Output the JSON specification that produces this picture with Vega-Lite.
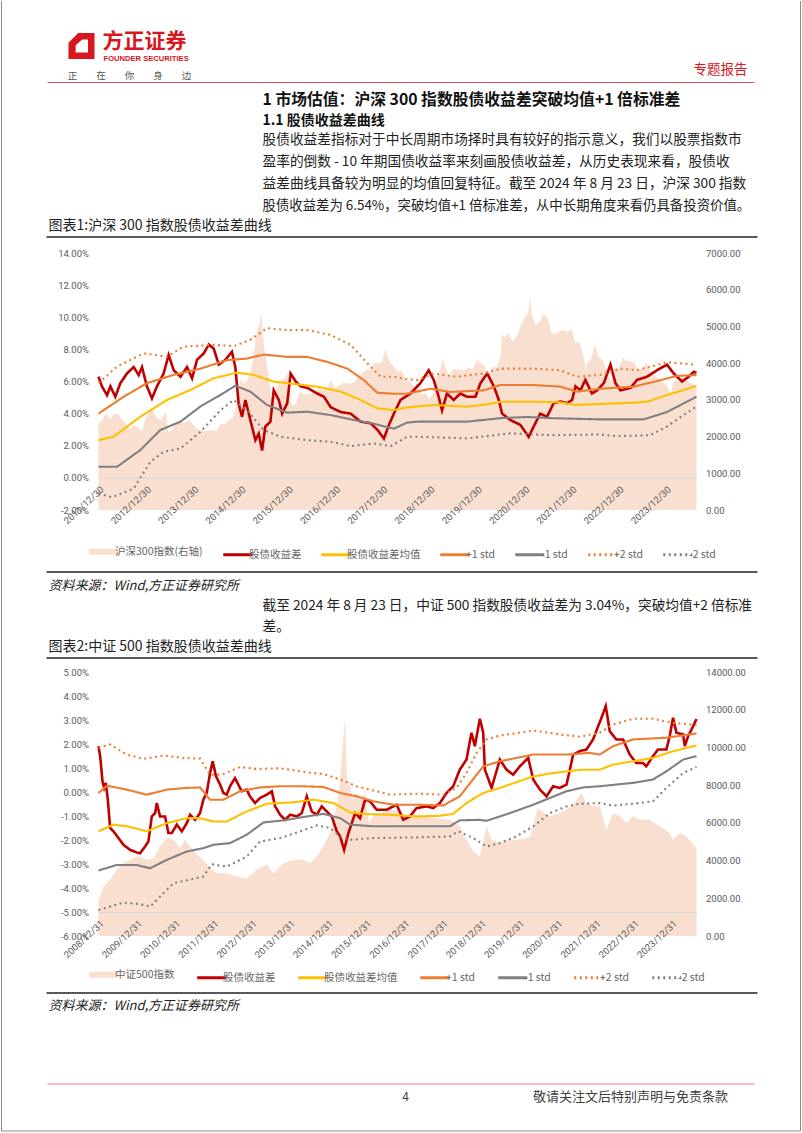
{
  "$schema": "https://vega.github.io/schema/vega-lite/v6.json",
  "background": "white",
  "padding": {"left": 0.5, "top": 0, "right": 0, "bottom": 0},
  "autosize": {"type": "pad"},
  "bounds": "flush",
  "spacing": 162,
  "resolve": {"scale": {"color": "independent", "strokeDash": "independent"}, "legend": {"color": "independent", "strokeDash": "independent"}},
  "config": {
    "view": {"stroke": null, "fill": null},
    "font": "Noto Sans CJK SC",
    "axis": {"labelFont": "Roboto", "labelColor": "#595959"}
  },
  "datasets": {
    "c1a": [
      {"d":"2011-12-30","v":2346},{"d":"2012-01-31","v":2464},{"d":"2012-02-29","v":2634},{"d":"2012-03-30","v":2455},{"d":"2012-04-27","v":2627},{"d":"2012-05-31","v":2620},{"d":"2012-06-29","v":2461},{"d":"2012-07-31","v":2333},{"d":"2012-08-31","v":2204},{"d":"2012-09-28","v":2293},{"d":"2012-10-31","v":2254},{"d":"2012-11-30","v":2139},{"d":"2012-12-31","v":2523},
      {"d":"2013-01-31","v":2688},{"d":"2013-02-08","v":2790},{"d":"2013-02-28","v":2673},{"d":"2013-03-29","v":2495},{"d":"2013-04-26","v":2448},{"d":"2013-05-31","v":2674},{"d":"2013-06-25","v":2100},{"d":"2013-07-31","v":2269},{"d":"2013-08-30","v":2389},{"d":"2013-09-30","v":2409},{"d":"2013-10-31","v":2374},{"d":"2013-11-29","v":2449},{"d":"2013-12-31","v":2331},
      {"d":"2014-01-30","v":2203},{"d":"2014-02-28","v":2178},{"d":"2014-03-31","v":2146},{"d":"2014-04-30","v":2158},{"d":"2014-05-30","v":2160},{"d":"2014-06-30","v":2165},{"d":"2014-07-31","v":2350},{"d":"2014-08-29","v":2338},{"d":"2014-09-30","v":2450},{"d":"2014-10-31","v":2508},{"d":"2014-11-28","v":2808},{"d":"2014-12-31","v":3533},
      {"d":"2015-01-30","v":3435},{"d":"2015-02-27","v":3572},{"d":"2015-03-31","v":3946},{"d":"2015-04-30","v":4750},{"d":"2015-05-29","v":5123},{"d":"2015-06-08","v":5380},{"d":"2015-06-30","v":4473},{"d":"2015-07-31","v":3816},{"d":"2015-08-26","v":3025},{"d":"2015-08-31","v":3366},{"d":"2015-09-30","v":3202},{"d":"2015-10-30","v":3534},{"d":"2015-11-30","v":3566},{"d":"2015-12-31","v":3731},
      {"d":"2016-01-28","v":2853},{"d":"2016-02-29","v":2877},{"d":"2016-03-31","v":3218},{"d":"2016-04-29","v":3156},{"d":"2016-05-31","v":3169},{"d":"2016-06-30","v":3154},{"d":"2016-07-29","v":3203},{"d":"2016-08-31","v":3327},{"d":"2016-09-30","v":3253},{"d":"2016-10-31","v":3336},{"d":"2016-11-30","v":3538},{"d":"2016-12-30","v":3310},
      {"d":"2017-01-26","v":3387},{"d":"2017-02-28","v":3452},{"d":"2017-03-31","v":3456},{"d":"2017-04-28","v":3439},{"d":"2017-05-31","v":3492},{"d":"2017-06-30","v":3666},{"d":"2017-07-31","v":3737},{"d":"2017-08-31","v":3822},{"d":"2017-09-29","v":3837},{"d":"2017-10-31","v":4006},{"d":"2017-11-30","v":4006},{"d":"2017-12-29","v":4031},
      {"d":"2018-01-24","v":4389},{"d":"2018-01-31","v":4275},{"d":"2018-02-28","v":4023},{"d":"2018-03-30","v":3899},{"d":"2018-04-27","v":3756},{"d":"2018-05-31","v":3802},{"d":"2018-06-29","v":3510},{"d":"2018-07-31","v":3517},{"d":"2018-08-31","v":3335},{"d":"2018-09-28","v":3438},{"d":"2018-10-31","v":3153},{"d":"2018-11-30","v":3173},{"d":"2018-12-28","v":3011},
      {"d":"2019-01-31","v":3202},{"d":"2019-02-28","v":3670},{"d":"2019-03-29","v":3872},{"d":"2019-04-08","v":4120},{"d":"2019-04-30","v":3913},{"d":"2019-05-31","v":3630},{"d":"2019-06-28","v":3826},{"d":"2019-07-31","v":3836},{"d":"2019-08-30","v":3799},{"d":"2019-09-30","v":3815},{"d":"2019-10-31","v":3886},{"d":"2019-11-29","v":3828},{"d":"2019-12-31","v":4097},
      {"d":"2020-01-23","v":4003},{"d":"2020-02-28","v":3940},{"d":"2020-03-23","v":3530},{"d":"2020-03-31","v":3686},{"d":"2020-04-30","v":3912},{"d":"2020-05-29","v":3868},{"d":"2020-06-30","v":4164},{"d":"2020-07-13","v":4800},{"d":"2020-07-31","v":4696},{"d":"2020-08-31","v":4816},{"d":"2020-09-30","v":4588},{"d":"2020-10-30","v":4696},{"d":"2020-11-30","v":4980},{"d":"2020-12-31","v":5211},
      {"d":"2021-01-29","v":5352},{"d":"2021-02-18","v":5807},{"d":"2021-02-26","v":5336},{"d":"2021-03-31","v":5048},{"d":"2021-04-30","v":5124},{"d":"2021-05-31","v":5332},{"d":"2021-06-30","v":5224},{"d":"2021-07-30","v":4811},{"d":"2021-08-31","v":4806},{"d":"2021-09-30","v":4866},{"d":"2021-10-29","v":4909},{"d":"2021-11-30","v":4833},{"d":"2021-12-31","v":4940},
      {"d":"2022-01-28","v":4564},{"d":"2022-02-28","v":4581},{"d":"2022-03-31","v":4222},{"d":"2022-04-26","v":3757},{"d":"2022-04-29","v":4016},{"d":"2022-05-31","v":4091},{"d":"2022-06-30","v":4485},{"d":"2022-07-29","v":4170},{"d":"2022-08-31","v":4079},{"d":"2022-09-30","v":3804},{"d":"2022-10-31","v":3509},{"d":"2022-11-30","v":3854},{"d":"2022-12-30","v":3872},
      {"d":"2023-01-31","v":4157},{"d":"2023-02-28","v":4061},{"d":"2023-03-31","v":4051},{"d":"2023-04-28","v":4030},{"d":"2023-05-31","v":3799},{"d":"2023-06-30","v":3842},{"d":"2023-07-31","v":4013},{"d":"2023-08-31","v":3765},{"d":"2023-09-28","v":3690},{"d":"2023-10-31","v":3573},{"d":"2023-11-30","v":3496},{"d":"2023-12-29","v":3431},
      {"d":"2024-01-31","v":3215},{"d":"2024-02-05","v":3180},{"d":"2024-02-29","v":3516},{"d":"2024-03-29","v":3537},{"d":"2024-04-30","v":3604},{"d":"2024-05-31","v":3579},{"d":"2024-06-28","v":3462},{"d":"2024-07-31","v":3442},{"d":"2024-08-23","v":3320}
    ],
    "c1l": [
      {"s":"股债收益差","d":"2011-12-30","v":0.063},{"s":"股债收益差","d":"2012-01-25","v":0.057},{"s":"股债收益差","d":"2012-03-05","v":0.0515},{"s":"股债收益差","d":"2012-03-31","v":0.057},{"s":"股债收益差","d":"2012-05-08","v":0.0505},{"s":"股债收益差","d":"2012-06-16","v":0.059},{"s":"股债收益差","d":"2012-08-06","v":0.065},{"s":"股债收益差","d":"2012-09-27","v":0.069},{"s":"股债收益差","d":"2012-11-04","v":0.064},{"s":"股债收益差","d":"2012-11-30","v":0.069},
      {"s":"股债收益差","d":"2013-01-07","v":0.057},{"s":"股债收益差","d":"2013-02-15","v":0.0495},{"s":"股债收益差","d":"2013-03-26","v":0.057},{"s":"股债收益差","d":"2013-05-16","v":0.065},{"s":"股债收益差","d":"2013-06-24","v":0.0765},{"s":"股债收益差","d":"2013-08-02","v":0.067},{"s":"股债收益差","d":"2013-09-23","v":0.063},{"s":"股债收益差","d":"2013-11-13","v":0.069},{"s":"股债收益差","d":"2013-12-22","v":0.062},
      {"s":"股债收益差","d":"2014-01-29","v":0.0735},{"s":"股债收益差","d":"2014-03-22","v":0.0775},{"s":"股债收益差","d":"2014-04-30","v":0.083},{"s":"股债收益差","d":"2014-06-07","v":0.0805},{"s":"股债收益差","d":"2014-07-16","v":0.0705},{"s":"股债收益差","d":"2014-09-05","v":0.0735},{"s":"股债收益差","d":"2014-10-26","v":0.0785},{"s":"股债收益差","d":"2014-11-21","v":0.069},{"s":"股债收益差","d":"2014-12-17","v":0.046},
      {"s":"股债收益差","d":"2015-01-12","v":0.038},{"s":"股债收益差","d":"2015-02-07","v":0.0485},{"s":"股债收益差","d":"2015-03-17","v":0.036},{"s":"股债收益差","d":"2015-04-25","v":0.0235},{"s":"股债收益差","d":"2015-05-21","v":0.0275},{"s":"股债收益差","d":"2015-06-16","v":0.017},{"s":"股债收益差","d":"2015-07-11","v":0.032},{"s":"股债收益差","d":"2015-08-19","v":0.035},{"s":"股债收益差","d":"2015-09-14","v":0.0545},{"s":"股债收益差","d":"2015-10-23","v":0.0485},{"s":"股债收益差","d":"2015-11-18","v":0.04},{"s":"股债收益差","d":"2015-12-27","v":0.0465},
      {"s":"股债收益差","d":"2016-01-22","v":0.065},{"s":"股债收益差","d":"2016-03-01","v":0.06},{"s":"股债收益差","d":"2016-04-09","v":0.057},{"s":"股债收益差","d":"2016-05-30","v":0.056},{"s":"股债收益差","d":"2016-08-15","v":0.0525},{"s":"股债收益差","d":"2016-10-06","v":0.0505},{"s":"股债收益差","d":"2016-11-27","v":0.044},
      {"s":"股债收益差","d":"2017-02-12","v":0.041},{"s":"股债收益差","d":"2017-04-30","v":0.04},{"s":"股债收益差","d":"2017-07-16","v":0.035},{"s":"股债收益差","d":"2017-10-01","v":0.034},{"s":"股债收益差","d":"2017-11-22","v":0.03},
      {"s":"股债收益差","d":"2018-01-12","v":0.0245},{"s":"股债收益差","d":"2018-02-20","v":0.033},{"s":"股债收益差","d":"2018-03-30","v":0.04},{"s":"股债收益差","d":"2018-05-20","v":0.0485},{"s":"股债收益差","d":"2018-08-05","v":0.0525},{"s":"股债收益差","d":"2018-10-21","v":0.059},{"s":"股债收益差","d":"2018-12-24","v":0.067},
      {"s":"股债收益差","d":"2019-02-01","v":0.061},{"s":"股债收益差","d":"2019-03-11","v":0.0505},{"s":"股债收益差","d":"2019-04-06","v":0.042},{"s":"股债收益差","d":"2019-05-14","v":0.0525},{"s":"股债收益差","d":"2019-07-05","v":0.0485},{"s":"股债收益差","d":"2019-08-25","v":0.0525},{"s":"股债收益差","d":"2019-10-16","v":0.0505},{"s":"股债收益差","d":"2019-12-20","v":0.0505},
      {"s":"股债收益差","d":"2020-01-28","v":0.059},{"s":"股债收益差","d":"2020-03-20","v":0.065},{"s":"股债收益差","d":"2020-05-10","v":0.057},{"s":"股债收益差","d":"2020-06-18","v":0.0485},{"s":"股债收益差","d":"2020-07-13","v":0.04},{"s":"股债收益差","d":"2020-09-15","v":0.036},{"s":"股债收益差","d":"2020-12-01","v":0.033},
      {"s":"股债收益差","d":"2021-02-04","v":0.0255},{"s":"股债收益差","d":"2021-03-14","v":0.032},{"s":"股债收益差","d":"2021-05-04","v":0.04},{"s":"股债收益差","d":"2021-06-25","v":0.038},{"s":"股债收益差","d":"2021-08-15","v":0.0465},{"s":"股债收益差","d":"2021-10-06","v":0.0475},{"s":"股债收益差","d":"2021-11-27","v":0.0465},
      {"s":"股债收益差","d":"2022-01-05","v":0.0485},{"s":"股债收益差","d":"2022-01-31","v":0.057},{"s":"股债收益差","d":"2022-03-10","v":0.0545},{"s":"股债收益差","d":"2022-04-17","v":0.061},{"s":"股债收益差","d":"2022-06-08","v":0.0525},{"s":"股债收益差","d":"2022-07-17","v":0.0545},{"s":"股债收益差","d":"2022-09-07","v":0.059},{"s":"股债收益差","d":"2022-10-28","v":0.0705},{"s":"股债收益差","d":"2022-12-06","v":0.059},
      {"s":"股债收益差","d":"2023-01-14","v":0.0545},{"s":"股债收益差","d":"2023-04-01","v":0.056},{"s":"股债收益差","d":"2023-05-22","v":0.061},{"s":"股债收益差","d":"2023-08-07","v":0.063},{"s":"股债收益差","d":"2023-10-23","v":0.067},
      {"s":"股债收益差","d":"2024-01-08","v":0.0705},{"s":"股债收益差","d":"2024-02-29","v":0.065},{"s":"股债收益差","d":"2024-05-03","v":0.06},{"s":"股债收益差","d":"2024-06-24","v":0.063},{"s":"股债收益差","d":"2024-08-02","v":0.066},{"s":"股债收益差","d":"2024-08-23","v":0.0654},

      {"s":"股债收益差均值","d":"2011-12-30","v":0.0235},{"s":"股债收益差均值","d":"2012-04-24","v":0.0256},{"s":"股债收益差均值","d":"2012-11-17","v":0.0381},{"s":"股债收益差均值","d":"2013-06-11","v":0.0485},{"s":"股债收益差均值","d":"2013-12-08","v":0.0547},{"s":"股债收益差均值","d":"2014-06-07","v":0.062},{"s":"股债收益差均值","d":"2014-12-04","v":0.0655},{"s":"股债收益差均值","d":"2015-04-12","v":0.0641},{"s":"股债收益差均值","d":"2015-09-14","v":0.0599},{"s":"股债收益差均值","d":"2016-02-16","v":0.0585},{"s":"股债收益差均值","d":"2016-08-15","v":0.0568},{"s":"股债收益差均值","d":"2017-02-12","v":0.0537},{"s":"股债收益差均值","d":"2017-07-16","v":0.0485},{"s":"股债收益差均值","d":"2017-11-22","v":0.0433},{"s":"股债收益差均值","d":"2018-03-30","v":0.0422},{"s":"股债收益差均值","d":"2018-07-10","v":0.0439},{"s":"股债收益差均值","d":"2019-02-01","v":0.0454},{"s":"股债收益差均值","d":"2019-10-16","v":0.0443},{"s":"股债收益差均值","d":"2020-03-20","v":0.0458},{"s":"股债收益差均值","d":"2020-07-01","v":0.0474},{"s":"股债收益差均值","d":"2021-03-14","v":0.0474},{"s":"股债收益差均值","d":"2021-10-06","v":0.047},{"s":"股债收益差均值","d":"2022-01-31","v":0.0454},{"s":"股债收益差均值","d":"2022-08-11","v":0.046},{"s":"股债收益差均值","d":"2023-04-26","v":0.0468},{"s":"股债收益差均值","d":"2023-08-07","v":0.0474},{"s":"股债收益差均值","d":"2024-01-08","v":0.0516},{"s":"股债收益差均值","d":"2024-05-16","v":0.0547},{"s":"股债收益差均值","d":"2024-08-23","v":0.0572},

      {"s":"+1 std","d":"2011-12-30","v":0.04},{"s":"+1 std","d":"2012-07-11","v":0.0505},{"s":"+1 std","d":"2013-01-07","v":0.059},{"s":"+1 std","d":"2013-08-02","v":0.0641},{"s":"+1 std","d":"2014-02-25","v":0.068},{"s":"+1 std","d":"2014-09-18","v":0.0733},{"s":"+1 std","d":"2015-02-20","v":0.0743},{"s":"+1 std","d":"2015-06-28","v":0.0768},{"s":"+1 std","d":"2015-12-27","v":0.0753},{"s":"+1 std","d":"2016-05-30","v":0.0753},{"s":"+1 std","d":"2016-11-01","v":0.0722},{"s":"+1 std","d":"2017-04-05","v":0.068},{"s":"+1 std","d":"2017-08-11","v":0.0608},{"s":"+1 std","d":"2017-11-22","v":0.053},{"s":"+1 std","d":"2018-03-30","v":0.0524},{"s":"+1 std","d":"2018-07-10","v":0.0524},{"s":"+1 std","d":"2019-01-06","v":0.0555},{"s":"+1 std","d":"2019-06-09","v":0.0535},{"s":"+1 std","d":"2020-02-22","v":0.0545},{"s":"+1 std","d":"2020-07-01","v":0.0578},{"s":"+1 std","d":"2021-03-14","v":0.0578},{"s":"+1 std","d":"2021-10-06","v":0.0568},{"s":"+1 std","d":"2022-02-13","v":0.0537},{"s":"+1 std","d":"2022-08-11","v":0.0555},{"s":"+1 std","d":"2023-04-26","v":0.0568},{"s":"+1 std","d":"2023-11-18","v":0.0608},{"s":"+1 std","d":"2024-03-25","v":0.0635},{"s":"+1 std","d":"2024-08-23","v":0.064},

      {"s":"-1 std","d":"2011-12-30","v":0.0069},{"s":"-1 std","d":"2012-05-21","v":0.0069},{"s":"-1 std","d":"2012-11-17","v":0.0173},{"s":"-1 std","d":"2013-04-21","v":0.0298},{"s":"-1 std","d":"2013-09-23","v":0.035},{"s":"-1 std","d":"2014-02-25","v":0.0445},{"s":"-1 std","d":"2014-07-29","v":0.0516},{"s":"-1 std","d":"2014-11-21","v":0.0574},{"s":"-1 std","d":"2015-03-17","v":0.0537},{"s":"-1 std","d":"2015-07-24","v":0.0454},{"s":"-1 std","d":"2015-12-27","v":0.0406},{"s":"-1 std","d":"2016-05-30","v":0.0412},{"s":"-1 std","d":"2016-11-27","v":0.0391},{"s":"-1 std","d":"2017-05-26","v":0.036},{"s":"-1 std","d":"2017-10-27","v":0.0337},{"s":"-1 std","d":"2018-03-30","v":0.0306},{"s":"-1 std","d":"2018-07-10","v":0.0344},{"s":"-1 std","d":"2018-09-26","v":0.035},{"s":"-1 std","d":"2019-10-16","v":0.035},{"s":"-1 std","d":"2020-07-01","v":0.0372},{"s":"-1 std","d":"2021-01-22","v":0.0379},{"s":"-1 std","d":"2021-07-21","v":0.0372},{"s":"-1 std","d":"2022-08-11","v":0.0364},{"s":"-1 std","d":"2023-07-12","v":0.0364},{"s":"-1 std","d":"2024-01-08","v":0.041},{"s":"-1 std","d":"2024-05-16","v":0.0464},{"s":"-1 std","d":"2024-08-23","v":0.0505},

      {"s":"+2 std","d":"2011-12-30","v":0.059},{"s":"+2 std","d":"2012-05-21","v":0.0693},{"s":"+2 std","d":"2012-12-13","v":0.0775},{"s":"+2 std","d":"2013-06-11","v":0.0754},{"s":"+2 std","d":"2013-10-18","v":0.0817},{"s":"+2 std","d":"2014-06-07","v":0.0828},{"s":"+2 std","d":"2014-11-08","v":0.082},{"s":"+2 std","d":"2015-03-17","v":0.086},{"s":"+2 std","d":"2015-07-24","v":0.0932},{"s":"+2 std","d":"2015-12-27","v":0.092},{"s":"+2 std","d":"2016-05-30","v":0.092},{"s":"+2 std","d":"2016-11-27","v":0.089},{"s":"+2 std","d":"2017-04-30","v":0.0828},{"s":"+2 std","d":"2017-09-06","v":0.0713},{"s":"+2 std","d":"2017-12-18","v":0.063},{"s":"+2 std","d":"2018-03-30","v":0.063},{"s":"+2 std","d":"2018-07-10","v":0.0614},{"s":"+2 std","d":"2018-09-26","v":0.061},{"s":"+2 std","d":"2019-02-01","v":0.065},{"s":"+2 std","d":"2019-07-31","v":0.063},{"s":"+2 std","d":"2020-02-22","v":0.065},{"s":"+2 std","d":"2020-07-01","v":0.068},{"s":"+2 std","d":"2021-03-14","v":0.068},{"s":"+2 std","d":"2021-10-06","v":0.067},{"s":"+2 std","d":"2022-02-13","v":0.063},{"s":"+2 std","d":"2022-08-11","v":0.0641},{"s":"+2 std","d":"2023-01-14","v":0.068},{"s":"+2 std","d":"2023-05-22","v":0.067},{"s":"+2 std","d":"2024-01-08","v":0.072},{"s":"+2 std","d":"2024-08-23","v":0.0705},

      {"s":"-2 std","d":"2011-12-30","v":-0.0098},{"s":"-2 std","d":"2012-04-12","v":-0.012},{"s":"-2 std","d":"2012-09-27","v":-0.0067},{"s":"-2 std","d":"2013-02-03","v":0.01},{"s":"-2 std","d":"2013-05-16","v":0.0162},{"s":"-2 std","d":"2013-09-23","v":0.0183},{"s":"-2 std","d":"2014-02-25","v":0.0287},{"s":"-2 std","d":"2014-07-29","v":0.042},{"s":"-2 std","d":"2014-11-08","v":0.0485},{"s":"-2 std","d":"2015-02-20","v":0.042},{"s":"-2 std","d":"2015-06-28","v":0.0298},{"s":"-2 std","d":"2015-11-05","v":0.0256},{"s":"-2 std","d":"2016-05-30","v":0.0235},{"s":"-2 std","d":"2016-11-27","v":0.0225},{"s":"-2 std","d":"2017-04-30","v":0.0198},{"s":"-2 std","d":"2017-10-27","v":0.0214},{"s":"-2 std","d":"2018-03-05","v":0.0198},{"s":"-2 std","d":"2018-07-10","v":0.0256},{"s":"-2 std","d":"2018-09-26","v":0.0256},{"s":"-2 std","d":"2019-10-16","v":0.0246},{"s":"-2 std","d":"2020-09-15","v":0.0277},{"s":"-2 std","d":"2021-07-21","v":0.0266},{"s":"-2 std","d":"2022-08-11","v":0.027},{"s":"-2 std","d":"2022-12-19","v":0.026},{"s":"-2 std","d":"2023-09-02","v":0.0266},{"s":"-2 std","d":"2024-01-08","v":0.032},{"s":"-2 std","d":"2024-05-16","v":0.0391},{"s":"-2 std","d":"2024-08-23","v":0.0445}
    ],
    "c2a": [
      {"d":"2008-12-31","v":1914},{"d":"2009-02-17","v":2623},{"d":"2009-04-21","v":2977},{"d":"2009-06-24","v":3509},{"d":"2009-08-26","v":3863},{"d":"2009-10-29","v":4040},{"d":"2010-01-01","v":4217},{"d":"2010-02-02","v":4217},{"d":"2010-04-06","v":4040},{"d":"2010-06-09","v":4129},{"d":"2010-08-11","v":4749},{"d":"2010-10-13","v":5192},{"d":"2010-12-17","v":5103},
      {"d":"2011-02-19","v":4660},{"d":"2011-04-07","v":5103},{"d":"2011-05-25","v":4749},{"d":"2011-07-28","v":4306},{"d":"2011-09-29","v":4040},{"d":"2011-12-02","v":3597},{"d":"2012-02-03","v":3331},{"d":"2012-05-09","v":3331},{"d":"2012-08-13","v":3154},{"d":"2012-11-16","v":3065},
      {"d":"2013-02-20","v":3509},{"d":"2013-05-27","v":3774},{"d":"2013-07-30","v":3331},{"d":"2013-11-03","v":3863},{"d":"2014-02-06","v":4040},{"d":"2014-05-13","v":4040},{"d":"2014-07-15","v":3863},{"d":"2014-09-16","v":4217},{"d":"2014-11-19","v":4749},
      {"d":"2015-01-21","v":5458},{"d":"2015-03-27","v":6876},{"d":"2015-04-28","v":8293},{"d":"2015-06-12","v":11483},{"d":"2015-06-25","v":9356},{"d":"2015-07-08","v":7939},{"d":"2015-07-24","v":8293},{"d":"2015-08-26","v":7230},{"d":"2015-09-30","v":7584},{"d":"2015-11-04","v":7230},{"d":"2015-12-22","v":7584},
      {"d":"2016-01-28","v":5990},{"d":"2016-03-11","v":6344},{"d":"2016-05-21","v":6521},{"d":"2016-08-16","v":6698},{"d":"2016-11-19","v":6610},{"d":"2017-01-28","v":6344},{"d":"2017-04-27","v":6432},{"d":"2017-10-04","v":6255},
      {"d":"2018-03-12","v":6167},{"d":"2018-06-14","v":5812},{"d":"2018-08-17","v":5103},{"d":"2018-10-21","v":4483},{"d":"2018-12-23","v":4217},{"d":"2019-02-25","v":5812},{"d":"2019-04-14","v":5103},{"d":"2019-07-02","v":4926},{"d":"2019-10-06","v":5103},
      {"d":"2020-01-09","v":5103},{"d":"2020-04-21","v":5281},{"d":"2020-06-26","v":6787},{"d":"2020-08-27","v":6521},{"d":"2020-10-22","v":6344},{"d":"2021-01-25","v":6521},{"d":"2021-03-30","v":6698},{"d":"2021-06-01","v":6964},{"d":"2021-08-19","v":7584},{"d":"2021-10-06","v":7052},{"d":"2021-12-09","v":6876},
      {"d":"2022-02-11","v":6876},{"d":"2022-04-15","v":5635},{"d":"2022-06-18","v":6521},{"d":"2022-08-21","v":6344},{"d":"2022-10-23","v":5990},{"d":"2022-12-25","v":6344},{"d":"2023-02-27","v":6167},{"d":"2023-06-04","v":6167},{"d":"2023-09-08","v":5812},{"d":"2023-12-11","v":5458},
      {"d":"2024-01-12","v":5103},{"d":"2024-03-16","v":5458},{"d":"2024-05-19","v":5281},{"d":"2024-08-23","v":4660}
    ],
    "c2l": [
      {"s":"股债收益差","d":"2008-12-31","v":0.0191},{"s":"股债收益差","d":"2009-01-16","v":0.0149},{"s":"股债收益差","d":"2009-02-07","v":0.0045},{"s":"股债收益差","d":"2009-02-23","v":0.0017},{"s":"股债收益差","d":"2009-03-11","v":0.0038},{"s":"股债收益差","d":"2009-03-30","v":-0.0032},{"s":"股债收益差","d":"2009-04-21","v":-0.015},{"s":"股债收益差","d":"2009-05-23","v":-0.0164},{"s":"股债收益差","d":"2009-07-10","v":-0.0192},{"s":"股债收益差","d":"2009-08-26","v":-0.022},{"s":"股债收益差","d":"2009-10-29","v":-0.0241},
      {"s":"股债收益差","d":"2010-01-01","v":-0.0252},{"s":"股债收益差","d":"2010-02-02","v":-0.0255},{"s":"股债收益差","d":"2010-03-21","v":-0.0227},{"s":"股债收益差","d":"2010-04-22","v":-0.0206},{"s":"股债收益差","d":"2010-05-24","v":-0.0102},{"s":"股债收益差","d":"2010-06-25","v":-0.0088},{"s":"股债收益差","d":"2010-07-11","v":-0.0046},{"s":"股债收益差","d":"2010-08-11","v":-0.0102},{"s":"股债收益差","d":"2010-09-28","v":-0.0102},{"s":"股债收益差","d":"2010-10-30","v":-0.0171},{"s":"股债收益差","d":"2010-12-01","v":-0.0171},
      {"s":"股债收益差","d":"2011-01-18","v":-0.0136},{"s":"股债收益差","d":"2011-03-07","v":-0.0164},{"s":"股债收益差","d":"2011-04-23","v":-0.013},{"s":"股债收益差","d":"2011-05-25","v":-0.0095},{"s":"股债收益差","d":"2011-07-12","v":-0.0116},{"s":"股债收益差","d":"2011-08-28","v":-0.0088},{"s":"股债收益差","d":"2011-09-29","v":-0.0032},{"s":"股债收益差","d":"2011-10-31","v":-0.0004},{"s":"股债收益差","d":"2011-12-02","v":0.0079},{"s":"股债收益差","d":"2011-12-27","v":0.0128},
      {"s":"股债收益差","d":"2012-01-28","v":0.0065},{"s":"股债收益差","d":"2012-03-07","v":0.0031},{"s":"股债收益差","d":"2012-04-07","v":-0.0004},{"s":"股债收益差","d":"2012-05-09","v":-0.0011},{"s":"股债收益差","d":"2012-06-10","v":0.0024},{"s":"股债收益差","d":"2012-07-27","v":0.0058},{"s":"股债收益差","d":"2012-08-28","v":0.0031},{"s":"股债收益差","d":"2012-09-29","v":0.0003},{"s":"股债收益差","d":"2012-11-16","v":0.001},{"s":"股债收益差","d":"2012-12-17","v":-0.0018},
      {"s":"股债收益差","d":"2013-02-04","v":-0.0046},{"s":"股债收益差","d":"2013-03-24","v":-0.0025},{"s":"股债收益差","d":"2013-05-27","v":-0.0011},{"s":"股债收益差","d":"2013-07-14","v":0.0003},{"s":"股债收益差","d":"2013-08-15","v":-0.006},{"s":"股债收益差","d":"2013-10-02","v":-0.0095},{"s":"股债收益差","d":"2013-11-18","v":-0.0116},
      {"s":"股债收益差","d":"2014-01-05","v":-0.0095},{"s":"股债收益差","d":"2014-03-09","v":-0.0102},{"s":"股债收益差","d":"2014-04-26","v":-0.0088},{"s":"股债收益差","d":"2014-06-13","v":-0.0018},{"s":"股债收益差","d":"2014-07-31","v":-0.0081},{"s":"股债收益差","d":"2014-09-16","v":-0.0095},{"s":"股债收益差","d":"2014-11-03","v":-0.006},{"s":"股债收益差","d":"2014-12-21","v":-0.0081},
      {"s":"股债收益差","d":"2015-02-07","v":-0.0102},{"s":"股债收益差","d":"2015-03-27","v":-0.0164},{"s":"股债收益差","d":"2015-04-28","v":-0.0185},{"s":"股债收益差","d":"2015-06-05","v":-0.0241},{"s":"股债收益差","d":"2015-07-16","v":-0.0171},{"s":"股债收益差","d":"2015-08-17","v":-0.013},{"s":"股债收益差","d":"2015-09-18","v":-0.0088},{"s":"股债收益差","d":"2015-11-04","v":-0.0109},{"s":"股债收益差","d":"2015-12-22","v":-0.0032},
      {"s":"股债收益差","d":"2016-02-08","v":-0.0039},{"s":"股债收益差","d":"2016-04-11","v":-0.0074},{"s":"股债收益差","d":"2016-07-15","v":-0.0074},{"s":"股债收益差","d":"2016-10-19","v":-0.0053},{"s":"股债收益差","d":"2016-12-21","v":-0.0116},
      {"s":"股债收益差","d":"2017-02-23","v":-0.0102},{"s":"股债收益差","d":"2017-04-27","v":-0.0067},{"s":"股债收益差","d":"2017-08-01","v":-0.006},{"s":"股债收益差","d":"2017-10-04","v":-0.0067},{"s":"股债收益差","d":"2017-12-06","v":-0.0046},
      {"s":"股债收益差","d":"2018-02-08","v":-0.0004},{"s":"股债收益差","d":"2018-04-12","v":0.0024},{"s":"股债收益差","d":"2018-06-14","v":0.0093},{"s":"股债收益差","d":"2018-08-17","v":0.0135},{"s":"股债收益差","d":"2018-10-04","v":0.0247},{"s":"股债收益差","d":"2018-11-05","v":0.0191},{"s":"股债收益差","d":"2018-12-23","v":0.0305},
      {"s":"股债收益差","d":"2019-01-24","v":0.0247},{"s":"股债收益差","d":"2019-02-09","v":0.0093},{"s":"股债收益差","d":"2019-04-14","v":0.0017},{"s":"股债收益差","d":"2019-07-02","v":0.0135},{"s":"股债收益差","d":"2019-09-04","v":0.0093},{"s":"股债收益差","d":"2019-11-06","v":0.0072},
      {"s":"股债收益差","d":"2020-01-09","v":0.0107},{"s":"股债收益差","d":"2020-03-29","v":0.0142},{"s":"股债收益差","d":"2020-05-16","v":0.0052},{"s":"股债收益差","d":"2020-07-19","v":0.001},{"s":"股债收益差","d":"2020-09-20","v":-0.0018},{"s":"股债收益差","d":"2020-11-23","v":0.0024},
      {"s":"股债收益差","d":"2021-01-25","v":0.0017},{"s":"股债收益差","d":"2021-03-30","v":0.0031},{"s":"股债收益差","d":"2021-05-01","v":0.0093},{"s":"股债收益差","d":"2021-06-01","v":0.0156},{"s":"股债收益差","d":"2021-08-04","v":0.017},{"s":"股债收益差","d":"2021-10-06","v":0.0177},{"s":"股债收益差","d":"2021-12-09","v":0.0219},
      {"s":"股债收益差","d":"2022-01-26","v":0.0274},{"s":"股债收益差","d":"2022-02-27","v":0.0309},{"s":"股债收益差","d":"2022-04-09","v":0.0358},{"s":"股债收益差","d":"2022-05-17","v":0.0253},{"s":"股债收益差","d":"2022-07-19","v":0.0219},{"s":"股债收益差","d":"2022-09-21","v":0.0219},{"s":"股债收益差","d":"2022-11-24","v":0.0156},
      {"s":"股债收益差","d":"2023-01-26","v":0.0121},{"s":"股债收益差","d":"2023-03-30","v":0.0121},{"s":"股债收益差","d":"2023-05-01","v":0.0107},{"s":"股债收益差","d":"2023-07-04","v":0.0149},{"s":"股债收益差","d":"2023-08-21","v":0.0177},{"s":"股债收益差","d":"2023-10-08","v":0.0177},{"s":"股债收益差","d":"2023-11-09","v":0.0177},{"s":"股债收益差","d":"2023-12-11","v":0.0233},
      {"s":"股债收益差","d":"2024-01-12","v":0.0309},{"s":"股债收益差","d":"2024-02-13","v":0.0247},{"s":"股债收益差","d":"2024-04-17","v":0.024},{"s":"股债收益差","d":"2024-05-03","v":0.0191},{"s":"股债收益差","d":"2024-06-04","v":0.0233},{"s":"股债收益差","d":"2024-07-06","v":0.026},{"s":"股债收益差","d":"2024-08-23","v":0.0304},

      {"s":"股债收益差均值","d":"2008-12-31","v":-0.0164},{"s":"股债收益差均值","d":"2009-05-23","v":-0.0136},{"s":"股债收益差均值","d":"2009-09-28","v":-0.0143},{"s":"股债收益差均值","d":"2010-04-06","v":-0.0164},{"s":"股债收益差均值","d":"2010-10-13","v":-0.013},{"s":"股债收益差均值","d":"2011-04-23","v":-0.0109},{"s":"股债收益差均值","d":"2011-08-28","v":-0.0109},{"s":"股债收益差均值","d":"2012-01-02","v":-0.0123},{"s":"股债收益差均值","d":"2012-05-09","v":-0.0123},{"s":"股债收益差均值","d":"2012-11-16","v":-0.0081},{"s":"股债收益差均值","d":"2013-05-27","v":-0.0049},{"s":"股债收益差均值","d":"2014-02-06","v":-0.0043},{"s":"股债收益差均值","d":"2014-08-16","v":-0.0032},{"s":"股债收益差均值","d":"2015-02-23","v":-0.0046},{"s":"股债收益差均值","d":"2015-08-01","v":-0.0085},{"s":"股债收益差均值","d":"2016-01-07","v":-0.0092},{"s":"股债收益差均值","d":"2016-08-16","v":-0.0095},{"s":"股债收益差均值","d":"2017-04-27","v":-0.0102},{"s":"股债收益差均值","d":"2017-12-06","v":-0.0099},{"s":"股债收益差均值","d":"2018-04-12","v":-0.0091},{"s":"股债收益差均值","d":"2018-08-17","v":-0.0046},{"s":"股债收益差均值","d":"2019-01-24","v":-0.0004},{"s":"股债收益差均值","d":"2019-07-02","v":0.0017},{"s":"股债收益差均值","d":"2020-05-16","v":0.0065},{"s":"股债收益差均值","d":"2020-10-22","v":0.0077},{"s":"股债收益差均值","d":"2021-03-30","v":0.0086},{"s":"股债收益差均值","d":"2021-09-04","v":0.0093},{"s":"股债收益差均值","d":"2022-02-11","v":0.0093},{"s":"股债收益差均值","d":"2022-06-18","v":0.0114},{"s":"股债收益差均值","d":"2022-12-25","v":0.0128},{"s":"股债收益差均值","d":"2023-07-04","v":0.0142},{"s":"股债收益差均值","d":"2024-01-12","v":0.017},{"s":"股债收益差均值","d":"2024-08-23","v":0.0194},

      {"s":"+1 std","d":"2008-12-31","v":-0.0004},{"s":"+1 std","d":"2009-03-21","v":0.0026},{"s":"+1 std","d":"2009-08-26","v":0.0013},{"s":"+1 std","d":"2010-04-06","v":-0.0011},{"s":"+1 std","d":"2010-10-13","v":0.001},{"s":"+1 std","d":"2011-04-23","v":0.0017},{"s":"+1 std","d":"2011-08-28","v":0.0019},{"s":"+1 std","d":"2011-12-02","v":-0.0032},{"s":"+1 std","d":"2012-04-07","v":-0.0032},{"s":"+1 std","d":"2012-09-13","v":0.0003},{"s":"+1 std","d":"2013-03-24","v":0.0019},{"s":"+1 std","d":"2013-10-02","v":0.0024},{"s":"+1 std","d":"2014-04-11","v":0.0024},{"s":"+1 std","d":"2014-11-19","v":0.0021},{"s":"+1 std","d":"2015-04-28","v":-0.0004},{"s":"+1 std","d":"2015-10-04","v":-0.0018},{"s":"+1 std","d":"2016-03-11","v":-0.0039},{"s":"+1 std","d":"2016-09-18","v":-0.0053},{"s":"+1 std","d":"2017-04-27","v":-0.0053},{"s":"+1 std","d":"2018-01-07","v":-0.0056},{"s":"+1 std","d":"2018-06-14","v":-0.0018},{"s":"+1 std","d":"2019-01-24","v":0.0107},{"s":"+1 std","d":"2019-07-02","v":0.0128},{"s":"+1 std","d":"2020-05-16","v":0.0156},{"s":"+1 std","d":"2021-03-30","v":0.0156},{"s":"+1 std","d":"2021-11-07","v":0.0163},{"s":"+1 std","d":"2022-02-11","v":0.0156},{"s":"+1 std","d":"2022-06-18","v":0.0191},{"s":"+1 std","d":"2022-12-25","v":0.0219},{"s":"+1 std","d":"2023-11-09","v":0.0226},{"s":"+1 std","d":"2024-08-23","v":0.0244},

      {"s":"-1 std","d":"2008-12-31","v":-0.0327},{"s":"-1 std","d":"2009-06-24","v":-0.0304},{"s":"-1 std","d":"2010-01-01","v":-0.0304},{"s":"-1 std","d":"2010-05-08","v":-0.0318},{"s":"-1 std","d":"2010-10-13","v":-0.0283},{"s":"-1 std","d":"2011-04-23","v":-0.0248},{"s":"-1 std","d":"2011-09-29","v":-0.0234},{"s":"-1 std","d":"2012-01-02","v":-0.022},{"s":"-1 std","d":"2012-06-10","v":-0.0213},{"s":"-1 std","d":"2012-11-16","v":-0.0178},{"s":"-1 std","d":"2013-04-25","v":-0.0127},{"s":"-1 std","d":"2013-11-03","v":-0.0118},{"s":"-1 std","d":"2014-06-13","v":-0.0102},{"s":"-1 std","d":"2014-11-19","v":-0.0091},{"s":"-1 std","d":"2015-04-28","v":-0.0109},{"s":"-1 std","d":"2015-08-01","v":-0.0136},{"s":"-1 std","d":"2016-03-11","v":-0.0143},{"s":"-1 std","d":"2017-04-27","v":-0.0143},{"s":"-1 std","d":"2018-03-12","v":-0.0143},{"s":"-1 std","d":"2018-06-14","v":-0.0118},{"s":"-1 std","d":"2018-12-23","v":-0.0116},{"s":"-1 std","d":"2019-02-25","v":-0.012},{"s":"-1 std","d":"2019-10-06","v":-0.0088},{"s":"-1 std","d":"2020-05-16","v":-0.0053},{"s":"-1 std","d":"2020-10-22","v":-0.0025},{"s":"-1 std","d":"2021-03-30","v":0.0003},{"s":"-1 std","d":"2021-09-04","v":0.0019},{"s":"-1 std","d":"2022-02-11","v":0.0024},{"s":"-1 std","d":"2022-12-25","v":0.0038},{"s":"-1 std","d":"2023-07-04","v":0.0052},{"s":"-1 std","d":"2023-11-09","v":0.0086},{"s":"-1 std","d":"2024-04-17","v":0.0135},{"s":"-1 std","d":"2024-08-23","v":0.0149},

      {"s":"+2 std","d":"2008-12-31","v":0.0184},{"s":"+2 std","d":"2009-04-21","v":0.0198},{"s":"+2 std","d":"2009-09-28","v":0.0156},{"s":"+2 std","d":"2010-03-05","v":0.0138},{"s":"+2 std","d":"2010-09-12","v":0.0152},{"s":"+2 std","d":"2011-03-22","v":0.0142},{"s":"+2 std","d":"2011-08-28","v":0.0139},{"s":"+2 std","d":"2011-12-02","v":0.0072},{"s":"+2 std","d":"2012-03-22","v":0.0072},{"s":"+2 std","d":"2012-09-13","v":0.0104},{"s":"+2 std","d":"2013-02-20","v":0.0096},{"s":"+2 std","d":"2013-10-02","v":0.0099},{"s":"+2 std","d":"2014-06-13","v":0.0082},{"s":"+2 std","d":"2014-11-19","v":0.0075},{"s":"+2 std","d":"2015-04-28","v":0.0052},{"s":"+2 std","d":"2015-10-04","v":0.0024},{"s":"+2 std","d":"2016-03-11","v":0.0006},{"s":"+2 std","d":"2016-08-16","v":-0.0011},{"s":"+2 std","d":"2017-04-27","v":-0.0007},{"s":"+2 std","d":"2018-01-07","v":-0.0011},{"s":"+2 std","d":"2018-05-15","v":0.0017},{"s":"+2 std","d":"2018-08-17","v":0.0079},{"s":"+2 std","d":"2018-11-22","v":0.0163},{"s":"+2 std","d":"2019-02-25","v":0.0219},{"s":"+2 std","d":"2019-07-02","v":0.0235},{"s":"+2 std","d":"2020-05-16","v":0.0256},{"s":"+2 std","d":"2021-01-25","v":0.024},{"s":"+2 std","d":"2021-08-04","v":0.023},{"s":"+2 std","d":"2022-02-11","v":0.0247},{"s":"+2 std","d":"2022-06-18","v":0.0281},{"s":"+2 std","d":"2022-12-25","v":0.0305},{"s":"+2 std","d":"2023-07-04","v":0.0305},{"s":"+2 std","d":"2024-01-12","v":0.0288},{"s":"+2 std","d":"2024-08-23","v":0.0279},

      {"s":"-2 std","d":"2008-12-31","v":-0.0492},{"s":"-2 std","d":"2009-08-26","v":-0.0461},{"s":"-2 std","d":"2010-02-02","v":-0.0467},{"s":"-2 std","d":"2010-05-08","v":-0.0478},{"s":"-2 std","d":"2010-08-11","v":-0.0436},{"s":"-2 std","d":"2010-12-17","v":-0.038},{"s":"-2 std","d":"2011-06-26","v":-0.0362},{"s":"-2 std","d":"2011-09-29","v":-0.0352},{"s":"-2 std","d":"2011-12-18","v":-0.0301},{"s":"-2 std","d":"2012-05-09","v":-0.0311},{"s":"-2 std","d":"2012-11-16","v":-0.0269},{"s":"-2 std","d":"2013-03-24","v":-0.0206},{"s":"-2 std","d":"2013-10-02","v":-0.0192},{"s":"-2 std","d":"2014-04-11","v":-0.0164},{"s":"-2 std","d":"2014-09-16","v":-0.0139},{"s":"-2 std","d":"2015-01-21","v":-0.015},{"s":"-2 std","d":"2015-04-28","v":-0.0185},{"s":"-2 std","d":"2015-08-01","v":-0.0199},{"s":"-2 std","d":"2016-03-11","v":-0.0192},{"s":"-2 std","d":"2017-04-27","v":-0.0189},{"s":"-2 std","d":"2018-03-12","v":-0.0185},{"s":"-2 std","d":"2018-05-31","v":-0.0164},{"s":"-2 std","d":"2018-10-21","v":-0.0192},{"s":"-2 std","d":"2019-02-25","v":-0.0227},{"s":"-2 std","d":"2019-07-02","v":-0.0213},{"s":"-2 std","d":"2019-12-08","v":-0.0185},{"s":"-2 std","d":"2020-05-16","v":-0.0143},{"s":"-2 std","d":"2020-10-22","v":-0.0088},{"s":"-2 std","d":"2021-03-30","v":-0.006},{"s":"-2 std","d":"2021-08-04","v":-0.0049},{"s":"-2 std","d":"2022-02-11","v":-0.0046},{"s":"-2 std","d":"2022-06-18","v":-0.0057},{"s":"-2 std","d":"2022-12-25","v":-0.0049},{"s":"-2 std","d":"2023-07-04","v":-0.0039},{"s":"-2 std","d":"2023-11-09","v":0.0017},{"s":"-2 std","d":"2024-04-17","v":0.0079},{"s":"-2 std","d":"2024-08-23","v":0.0104}
    ]
  },
  "vconcat": [
    {
      "width": 598, "height": 91,
      "layer": [
        {"data": {"values": [{}]}, "mark": {"type": "rule", "color": "#8c8c8c", "strokeWidth": 1}, "encoding": {"x": {"value": -97}, "y": {"value": 1}, "y2": {"value": 1131}}},
        {"data": {"values": [{}]}, "mark": {"type": "rule", "color": "#8c8c8c", "strokeWidth": 1}, "encoding": {"x": {"value": 702}, "y": {"value": 1}, "y2": {"value": 1131}}},
        {"data": {"values": [{}]}, "mark": {"type": "rule", "color": "#8c8c8c", "strokeWidth": 1}, "encoding": {"x": {"value": -97}, "x2": {"value": 702}, "y": {"value": 1131}}},
        {"data": {"values": [{}]}, "mark": {"type": "point", "shape": "M -0.25 -1 L 1 -1 L 1 1 L -1 1 L -1 -0.25 Z M -0.45 -0.05 L -0.45 0.5 L 0.5 0.5 L 0.5 -0.5 L 0.05 -0.5 Z", "filled": true, "color": "#D7161E", "size": 680, "opacity": 1, "strokeWidth": 0}, "encoding": {"x": {"value": -17}, "y": {"value": 46}}},
        {"data": {"values": [{"t": "方正证券"}]}, "mark": {"type": "text", "align": "left", "baseline": "middle", "fontSize": 21, "fontWeight": "bold", "color": "#D7161E"}, "encoding": {"text": {"field": "t"}, "x": {"value": 4}, "y": {"value": 42}}},
        {"data": {"values": [{"t": "FOUNDER SECURITIES"}]}, "mark": {"type": "text", "align": "left", "baseline": "middle", "font": "Liberation Sans", "fontSize": 7.6, "fontWeight": "bold", "color": "#D7161E"}, "encoding": {"text": {"field": "t"}, "x": {"value": 5}, "y": {"value": 58.5}}},
        {"data": {"values": [{"t": "正　　在　　你　　身　　边"}]}, "mark": {"type": "text", "align": "center", "baseline": "middle", "fontSize": 9.5, "color": "#555555"}, "encoding": {"text": {"field": "t"}, "x": {"value": 31}, "y": {"value": 76}}},
        {"data": {"values": [{"t": "专题报告"}]}, "mark": {"type": "text", "align": "left", "baseline": "middle", "fontSize": 13.5, "color": "#D7161E"}, "encoding": {"text": {"field": "t"}, "x": {"value": 595}, "y": {"value": 70}}},
        {"data": {"values": [{}]}, "mark": {"type": "rule", "color": "#E0505A", "strokeWidth": 1.2}, "encoding": {"x": {"value": -51}, "x2": {"value": 656}, "y": {"value": 82.5}}},
        {"data": {"values": [{"t": "1 市场估值：沪深 300 指数股债收益差突破均值+1 倍标准差"}]}, "mark": {"type": "text", "align": "left", "baseline": "middle", "fontSize": 15.8, "fontWeight": "bold", "color": "#111111"}, "encoding": {"text": {"field": "t"}, "x": {"value": 164}, "y": {"value": 100}}},
        {"data": {"values": [{"t": "1.1 股债收益差曲线"}]}, "mark": {"type": "text", "align": "left", "baseline": "middle", "fontSize": 14, "fontWeight": "bold", "color": "#111111"}, "encoding": {"text": {"field": "t"}, "x": {"value": 164}, "y": {"value": 121}}},
        {"data": {"values": [{"t": "股债收益差指标对于中长周期市场择时具有较好的指示意义，我们以股票指数市"}]}, "mark": {"type": "text", "align": "left", "baseline": "middle", "fontSize": 13.7, "color": "#222222"}, "encoding": {"text": {"field": "t"}, "x": {"value": 164}, "y": {"value": 140}}},
        {"data": {"values": [{"t": "盈率的倒数 - 10 年期国债收益率来刻画股债收益差，从历史表现来看，股债收"}]}, "mark": {"type": "text", "align": "left", "baseline": "middle", "fontSize": 13.7, "color": "#222222"}, "encoding": {"text": {"field": "t"}, "x": {"value": 164}, "y": {"value": 162}}},
        {"data": {"values": [{"t": "益差曲线具备较为明显的均值回复特征。截至 2024 年 8 月 23 日，沪深 300 指数"}]}, "mark": {"type": "text", "align": "left", "baseline": "middle", "fontSize": 13.7, "color": "#222222"}, "encoding": {"text": {"field": "t"}, "x": {"value": 164}, "y": {"value": 184}}},
        {"data": {"values": [{"t": "股债收益差为 6.54%，突破均值+1 倍标准差，从中长期角度来看仍具备投资价值。"}]}, "mark": {"type": "text", "align": "left", "baseline": "middle", "fontSize": 13.4, "color": "#222222"}, "encoding": {"text": {"field": "t"}, "x": {"value": 164}, "y": {"value": 206}}},
        {"data": {"values": [{"t": "图表1:沪深 300 指数股债收益差曲线"}]}, "mark": {"type": "text", "align": "left", "baseline": "middle", "fontSize": 14, "color": "#222222"}, "encoding": {"text": {"field": "t"}, "x": {"value": -50}, "y": {"value": 226}}},
        {"data": {"values": [{}]}, "mark": {"type": "rule", "color": "#222222", "strokeWidth": 1.3}, "encoding": {"x": {"value": -52}, "x2": {"value": 659}, "y": {"value": 237}}}
      ]
    },
    {
      "width": 598, "height": 257,
      "layer": [
        {
          "data": {"name": "c1a"},
          "mark": {"type": "area", "color": "#F9DFD0", "opacity": 1},
          "encoding": {
            "x": {"field": "d", "type": "temporal",
              "scale": {"type": "utc", "domain": [{"year": 2011, "month": 12, "date": 30, "utc": true}, {"year": 2024, "month": 8, "date": 23, "utc": true}]},
              "axis": {"title": null, "zindex": 1, "format": "%Y/%m/%d", "labelAngle": -43, "labelFontSize": 9.5, "labelPadding": 6, "ticks": false, "grid": false, "domain": true, "domainColor": "#D9D9D9", "domainWidth": 1, "offset": -32, "labelOverlap": false, "labelFlush": false, "labelBound": false,
                "values": [{"year":2011,"month":12,"date":30,"utc":true},{"year":2012,"month":12,"date":30,"utc":true},{"year":2013,"month":12,"date":30,"utc":true},{"year":2014,"month":12,"date":30,"utc":true},{"year":2015,"month":12,"date":30,"utc":true},{"year":2016,"month":12,"date":30,"utc":true},{"year":2017,"month":12,"date":30,"utc":true},{"year":2018,"month":12,"date":30,"utc":true},{"year":2019,"month":12,"date":30,"utc":true},{"year":2020,"month":12,"date":30,"utc":true},{"year":2021,"month":12,"date":30,"utc":true},{"year":2022,"month":12,"date":30,"utc":true},{"year":2023,"month":12,"date":30,"utc":true}]}},
            "y": {"field": "v", "type": "quantitative", "scale": {"domain": [0, 7000], "nice": false},
              "axis": {"orient": "right", "title": null, "values": [0, 1000, 2000, 3000, 4000, 5000, 6000, 7000], "format": ".2f", "labelFontSize": 9.5, "labelPadding": 9, "ticks": false, "domain": false, "grid": false}}
          }
        },
        {
          "data": {"name": "c1l"},
          "mark": {"type": "line", "interpolate": "linear"},
          "encoding": {
            "x": {"field": "d", "type": "temporal",
              "scale": {"type": "utc", "domain": [{"year": 2011, "month": 12, "date": 30, "utc": true}, {"year": 2024, "month": 8, "date": 23, "utc": true}]},
              "axis": {"title": null, "zindex": 1, "format": "%Y/%m/%d", "labelAngle": -43, "labelFontSize": 9.5, "labelPadding": 6, "ticks": false, "grid": false, "domain": true, "domainColor": "#D9D9D9", "domainWidth": 1, "offset": -32, "labelOverlap": false, "labelFlush": false, "labelBound": false,
                "values": [{"year":2011,"month":12,"date":30,"utc":true},{"year":2012,"month":12,"date":30,"utc":true},{"year":2013,"month":12,"date":30,"utc":true},{"year":2014,"month":12,"date":30,"utc":true},{"year":2015,"month":12,"date":30,"utc":true},{"year":2016,"month":12,"date":30,"utc":true},{"year":2017,"month":12,"date":30,"utc":true},{"year":2018,"month":12,"date":30,"utc":true},{"year":2019,"month":12,"date":30,"utc":true},{"year":2020,"month":12,"date":30,"utc":true},{"year":2021,"month":12,"date":30,"utc":true},{"year":2022,"month":12,"date":30,"utc":true},{"year":2023,"month":12,"date":30,"utc":true}]}},
            "y": {"field": "v", "type": "quantitative", "scale": {"domain": [-0.02, 0.14], "nice": false, "zero": false},
              "axis": {"orient": "left", "title": null, "values": [-0.02, 0, 0.02, 0.04, 0.06, 0.08, 0.1, 0.12, 0.14], "format": ".2%", "labelExpr": "replace(datum.label, '−', '-')", "labelFontSize": 9.5, "labelPadding": 10, "ticks": false, "domain": false, "grid": false}},
            "color": {"field": "s", "type": "nominal",
              "scale": {"domain": ["沪深300指数(右轴)", "股债收益差", "股债收益差均值", "+1 std", "-1 std", "+2 std", "-2 std"], "range": ["#F9DFD0", "#C00000", "#FFC000", "#ED7D31", "#808080", "#ED7D31", "#808080"]},
              "legend": {"title": null, "orient": "none", "legendX": 0, "legendY": 293, "direction": "horizontal", "columns": 7, "symbolType": "stroke", "symbolSize": 841, "symbolStrokeWidth": 3, "labelFontSize": 10.5, "labelColor": "#666666", "labelFont": "Noto Sans CJK SC", "columnPadding": 13, "labelOffset": 6, "labelLimit": 200,
                "encode": {"symbols": {"update": {"strokeWidth": {"signal": "datum.value === '沪深300指数(右轴)' ? 6 : 3"}}}}}},
            "strokeDash": {"field": "s", "type": "nominal",
              "scale": {"domain": ["沪深300指数(右轴)", "股债收益差", "股债收益差均值", "+1 std", "-1 std", "+2 std", "-2 std"], "range": [[1, 0], [1, 0], [1, 0], [1, 0], [1, 0], [2, 3.5], [2, 3.5]]},
              "legend": {"title": null, "orient": "none", "legendX": 0, "legendY": 293, "direction": "horizontal", "columns": 7, "symbolType": "stroke", "symbolSize": 841, "symbolStrokeWidth": 3, "labelFontSize": 10.5, "labelColor": "#666666", "labelFont": "Noto Sans CJK SC", "columnPadding": 13, "labelOffset": 6, "labelLimit": 200,
                "encode": {"symbols": {"update": {"strokeWidth": {"signal": "datum.value === '沪深300指数(右轴)' ? 6 : 3"}}}}}},
            "strokeWidth": {"condition": {"test": "datum.s === '股债收益差'", "value": 2.6}, "value": 2.1}
          }
        },
        {"data": {"values": [{}]}, "mark": {"type": "rule", "color": "#222222", "strokeWidth": 1.3}, "encoding": {"x": {"value": -52}, "x2": {"value": 659}, "y": {"value": 319}}},
        {"data": {"values": [{"t": "资料来源：Wind,方正证券研究所"}]}, "mark": {"type": "text", "align": "left", "baseline": "middle", "fontSize": 13, "fontStyle": "italic", "color": "#222222"}, "encoding": {"text": {"field": "t"}, "x": {"value": -50}, "y": {"value": 333}}},
        {"data": {"values": [{"t": "截至 2024 年 8 月 23 日，中证 500 指数股债收益差为 3.04%，突破均值+2 倍标准"}]}, "mark": {"type": "text", "align": "left", "baseline": "middle", "fontSize": 13.7, "color": "#222222"}, "encoding": {"text": {"field": "t"}, "x": {"value": 164}, "y": {"value": 353}}},
        {"data": {"values": [{"t": "差。"}]}, "mark": {"type": "text", "align": "left", "baseline": "middle", "fontSize": 13.7, "color": "#222222"}, "encoding": {"text": {"field": "t"}, "x": {"value": 164}, "y": {"value": 374}}},
        {"data": {"values": [{"t": "图表2:中证 500 指数股债收益差曲线"}]}, "mark": {"type": "text", "align": "left", "baseline": "middle", "fontSize": 14, "color": "#222222"}, "encoding": {"text": {"field": "t"}, "x": {"value": -50}, "y": {"value": 394}}},
        {"data": {"values": [{}]}, "mark": {"type": "rule", "color": "#222222", "strokeWidth": 1.3}, "encoding": {"x": {"value": -52}, "x2": {"value": 659}, "y": {"value": 405}}}
      ],
      "resolve": {"scale": {"y": "independent"}}
    },
    {
      "width": 598, "height": 264,
      "layer": [
        {
          "data": {"name": "c2a"},
          "mark": {"type": "area", "color": "#F9DFD0", "opacity": 1},
          "encoding": {
            "x": {"field": "d", "type": "temporal",
              "scale": {"type": "utc", "domain": [{"year": 2008, "month": 12, "date": 31, "utc": true}, {"year": 2024, "month": 8, "date": 23, "utc": true}]},
              "axis": {"title": null, "zindex": 1, "format": "%Y/%m/%d", "labelAngle": -43, "labelFontSize": 9.5, "labelPadding": 6, "ticks": false, "grid": false, "domain": true, "domainColor": "#D9D9D9", "domainWidth": 1, "offset": -24, "labelOverlap": false, "labelFlush": false, "labelBound": false,
                "values": [{"year":2008,"month":12,"date":31,"utc":true},{"year":2009,"month":12,"date":31,"utc":true},{"year":2010,"month":12,"date":31,"utc":true},{"year":2011,"month":12,"date":31,"utc":true},{"year":2012,"month":12,"date":31,"utc":true},{"year":2013,"month":12,"date":31,"utc":true},{"year":2014,"month":12,"date":31,"utc":true},{"year":2015,"month":12,"date":31,"utc":true},{"year":2016,"month":12,"date":31,"utc":true},{"year":2017,"month":12,"date":31,"utc":true},{"year":2018,"month":12,"date":31,"utc":true},{"year":2019,"month":12,"date":31,"utc":true},{"year":2020,"month":12,"date":31,"utc":true},{"year":2021,"month":12,"date":31,"utc":true},{"year":2022,"month":12,"date":31,"utc":true},{"year":2023,"month":12,"date":31,"utc":true}]}},
            "y": {"field": "v", "type": "quantitative", "scale": {"domain": [0, 14000], "nice": false},
              "axis": {"orient": "right", "title": null, "values": [0, 2000, 4000, 6000, 8000, 10000, 12000, 14000], "format": ".2f", "labelFontSize": 9.5, "labelPadding": 9, "ticks": false, "domain": false, "grid": false}}
          }
        },
        {
          "data": {"name": "c2l"},
          "mark": {"type": "line", "interpolate": "linear"},
          "encoding": {
            "x": {"field": "d", "type": "temporal",
              "scale": {"type": "utc", "domain": [{"year": 2008, "month": 12, "date": 31, "utc": true}, {"year": 2024, "month": 8, "date": 23, "utc": true}]},
              "axis": {"title": null, "zindex": 1, "format": "%Y/%m/%d", "labelAngle": -43, "labelFontSize": 9.5, "labelPadding": 6, "ticks": false, "grid": false, "domain": true, "domainColor": "#D9D9D9", "domainWidth": 1, "offset": -24, "labelOverlap": false, "labelFlush": false, "labelBound": false,
                "values": [{"year":2008,"month":12,"date":31,"utc":true},{"year":2009,"month":12,"date":31,"utc":true},{"year":2010,"month":12,"date":31,"utc":true},{"year":2011,"month":12,"date":31,"utc":true},{"year":2012,"month":12,"date":31,"utc":true},{"year":2013,"month":12,"date":31,"utc":true},{"year":2014,"month":12,"date":31,"utc":true},{"year":2015,"month":12,"date":31,"utc":true},{"year":2016,"month":12,"date":31,"utc":true},{"year":2017,"month":12,"date":31,"utc":true},{"year":2018,"month":12,"date":31,"utc":true},{"year":2019,"month":12,"date":31,"utc":true},{"year":2020,"month":12,"date":31,"utc":true},{"year":2021,"month":12,"date":31,"utc":true},{"year":2022,"month":12,"date":31,"utc":true},{"year":2023,"month":12,"date":31,"utc":true}]}},
            "y": {"field": "v", "type": "quantitative", "scale": {"domain": [-0.06, 0.05], "nice": false, "zero": false},
              "axis": {"orient": "left", "title": null, "values": [-0.06, -0.05, -0.04, -0.03, -0.02, -0.01, 0, 0.01, 0.02, 0.03, 0.04, 0.05], "format": ".2%", "labelExpr": "replace(datum.label, '−', '-')", "labelFontSize": 9.5, "labelPadding": 10, "ticks": false, "domain": false, "grid": false}},
            "color": {"field": "s", "type": "nominal",
              "scale": {"domain": ["中证500指数", "股债收益差", "股债收益差均值", "+1 std", "-1 std", "+2 std", "-2 std"], "range": ["#F9DFD0", "#C00000", "#FFC000", "#ED7D31", "#808080", "#ED7D31", "#808080"]},
              "legend": {"title": null, "orient": "none", "legendX": 0, "legendY": 297, "direction": "horizontal", "columns": 7, "symbolType": "stroke", "symbolSize": 841, "symbolStrokeWidth": 3, "labelFontSize": 10.5, "labelColor": "#666666", "labelFont": "Noto Sans CJK SC", "columnPadding": 16, "labelOffset": 6, "labelLimit": 200,
                "encode": {"symbols": {"update": {"strokeWidth": {"signal": "datum.value === '中证500指数' ? 6 : 3"}}}}}},
            "strokeDash": {"field": "s", "type": "nominal",
              "scale": {"domain": ["中证500指数", "股债收益差", "股债收益差均值", "+1 std", "-1 std", "+2 std", "-2 std"], "range": [[1, 0], [1, 0], [1, 0], [1, 0], [1, 0], [2, 3.5], [2, 3.5]]},
              "legend": {"title": null, "orient": "none", "legendX": 0, "legendY": 297, "direction": "horizontal", "columns": 7, "symbolType": "stroke", "symbolSize": 841, "symbolStrokeWidth": 3, "labelFontSize": 10.5, "labelColor": "#666666", "labelFont": "Noto Sans CJK SC", "columnPadding": 16, "labelOffset": 6, "labelLimit": 200,
                "encode": {"symbols": {"update": {"strokeWidth": {"signal": "datum.value === '中证500指数' ? 6 : 3"}}}}}},
            "strokeWidth": {"condition": {"test": "datum.s === '股债收益差'", "value": 2.6}, "value": 2.1}
          }
        },
        {"data": {"values": [{}]}, "mark": {"type": "rule", "color": "#222222", "strokeWidth": 1.3}, "encoding": {"x": {"value": -52}, "x2": {"value": 659}, "y": {"value": 321}}},
        {"data": {"values": [{"t": "资料来源：Wind,方正证券研究所"}]}, "mark": {"type": "text", "align": "left", "baseline": "middle", "fontSize": 13, "fontStyle": "italic", "color": "#222222"}, "encoding": {"text": {"field": "t"}, "x": {"value": -50}, "y": {"value": 334}}},
        {"data": {"values": [{}]}, "mark": {"type": "rule", "color": "#E9788A", "strokeWidth": 1.2}, "encoding": {"x": {"value": -51}, "x2": {"value": 656}, "y": {"value": 412}}},
        {"data": {"values": [{"t": "4"}]}, "mark": {"type": "text", "align": "center", "baseline": "middle", "fontSize": 12, "color": "#404040"}, "encoding": {"text": {"field": "t"}, "x": {"value": 307}, "y": {"value": 425}}},
        {"data": {"values": [{"t": "敬请关注文后特别声明与免责条款"}]}, "mark": {"type": "text", "align": "center", "baseline": "middle", "fontSize": 13, "color": "#404040"}, "encoding": {"text": {"field": "t"}, "x": {"value": 532}, "y": {"value": 425}}}
      ],
      "resolve": {"scale": {"y": "independent"}}
    }
  ]
}
